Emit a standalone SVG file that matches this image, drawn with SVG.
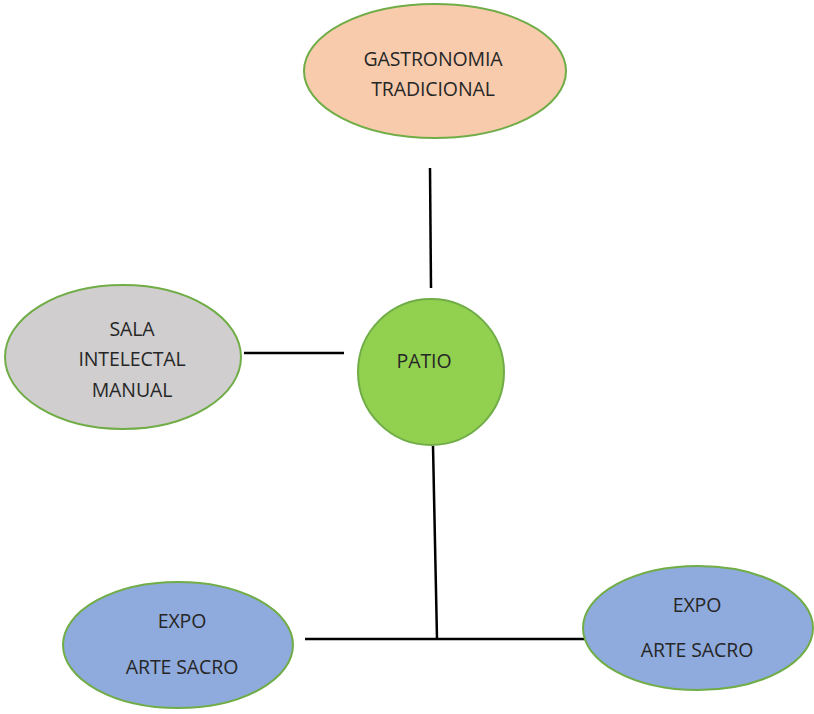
<svg xmlns="http://www.w3.org/2000/svg" width="814" height="714" viewBox="0 0 814 714">
<style>
.n{stroke:#70AD47;stroke-width:2}
.t{font-family:"Open Sans","Liberation Sans",sans-serif;font-size:19.5px;fill:#262626;text-anchor:middle;letter-spacing:-0.1px}
.c{stroke:#000;stroke-width:2.5;fill:none}
</style>
<rect width="814" height="714" fill="#fff"/>
<g id="connectors">
<line class="c" x1="430" y1="168" x2="431" y2="288"/>
<line class="c" x1="244" y1="353" x2="344" y2="353"/>
<line class="c" x1="433" y1="446" x2="437" y2="639"/>
<line class="c" x1="305" y1="639" x2="585" y2="639"/>
</g>
<g id="gastronomia">
<ellipse class="n" cx="435" cy="71" rx="131" ry="67" fill="#F8CBAD"/>
<text class="t" x="433" y="66">GASTRONOMIA</text>
<text class="t" x="433" y="96">TRADICIONAL</text>
</g>
<g id="sala">
<ellipse class="n" cx="123" cy="357" rx="118" ry="72" fill="#D0CECE"/>
<text class="t" x="132" y="336">SALA</text>
<text class="t" x="132" y="366">INTELECTAL</text>
<text class="t" x="132" y="397">MANUAL</text>
</g>
<g id="patio">
<circle class="n" cx="431" cy="372" r="73" fill="#92D050"/>
<text class="t" x="424" y="368">PATIO</text>
</g>
<g id="expo1">
<ellipse class="n" cx="178" cy="645" rx="115" ry="63" fill="#8FAADC"/>
<text class="t" x="182" y="628">EXPO</text>
<text class="t" x="182" y="674">ARTE SACRO</text>
</g>
<g id="expo2">
<ellipse class="n" cx="698" cy="628" rx="115" ry="62" fill="#8FAADC"/>
<text class="t" x="697" y="612">EXPO</text>
<text class="t" x="697" y="657">ARTE SACRO</text>
</g>
</svg>
